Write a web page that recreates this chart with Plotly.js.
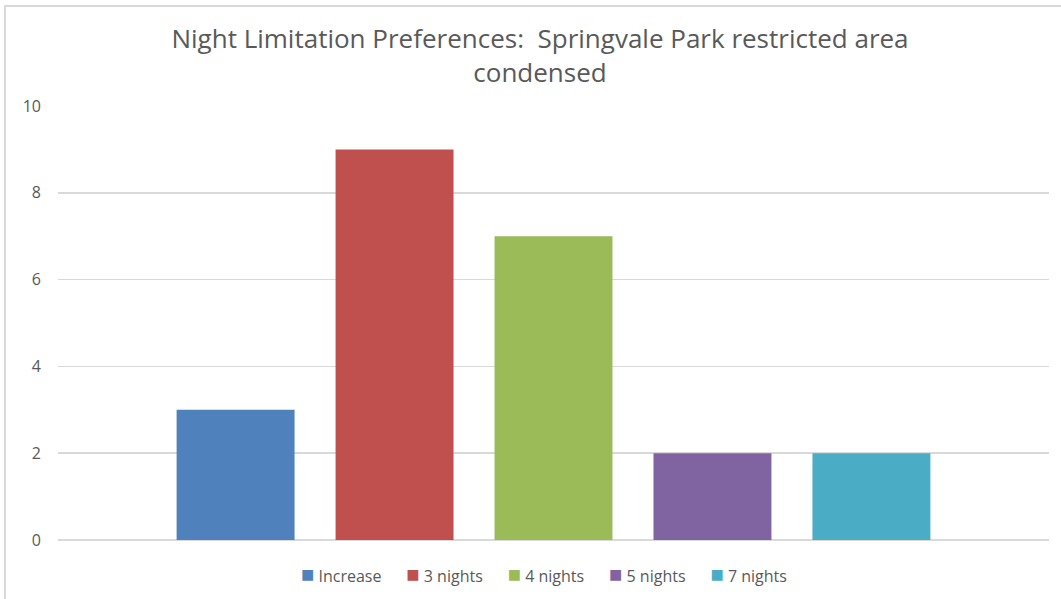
<!DOCTYPE html>
<html>
<head>
<meta charset="utf-8">
<script src="https://cdn.plot.ly/plotly-3.0.1.min.js"></script>
<style>
  html, body { margin: 0; padding: 0; background: #ffffff; }
  #wrap { position: relative; width: 1061px; height: 599px; overflow: hidden; }
  #frame { position: absolute; left: 4px; top: 5px; width: 1070px; height: 610px;
           border-left: 2px solid #d9d9d9; border-top: 2px solid #d9d9d9; pointer-events: none; z-index: 2; }
  #chart { position: absolute; left: 0; top: 0; width: 1061px; height: 599px; }
</style>
</head>
<body>
<div id="wrap">
  <div id="chart"></div>
  <div id="frame"></div>
</div>
<script>
const category = [""];
const seriesNames = ["Increase", "3 nights", "4 nights", "5 nights", "7 nights"];
const seriesValues = [3, 9, 7, 2, 2];
const seriesColors = ["#4F81BD", "#C0504D", "#9BBB59", "#8064A2", "#4BACC6"];
const yTicks = [0, 2, 4, 6, 8, 10];

const traces = seriesNames.map((name, i) => ({
  type: "bar",
  name: name,
  x: category,
  y: [seriesValues[i]],
  marker: { color: seriesColors[i], line: { width: 0 } },
  hoverinfo: "name+y"
}));

const legendText = seriesNames.map((name, i) =>
  '<span style="color:' + seriesColors[i] + ';font-size:22px">■</span> ' + name
).join('&nbsp;&nbsp;&nbsp;&nbsp;&nbsp;&nbsp;');

const layout = {
  width: 1061,
  height: 599,
  paper_bgcolor: "rgba(0,0,0,0)",
  plot_bgcolor: "#ffffff",
  margin: { l: 58, r: 12, t: 106, b: 59 },
  barmode: "group",
  bargap: 0.198,
  bargroupgap: 0.258,
  showlegend: false,
  title: {
    text: "Night Limitation Preferences:  Springvale Park restricted area<br>condensed",
    font: { family: "Open Sans, sans-serif", size: 26, color: "#595959" },
    x: 540 / 1061, xanchor: "center", xref: "container",
    y: 1 - 48 / 599, yanchor: "middle", yref: "container"
  },
  font: { family: "Open Sans, sans-serif", color: "#595959" },
  xaxis: {
    showticklabels: false,
    showgrid: false,
    zeroline: false,
    showline: false,
    ticks: "",
    fixedrange: true
  },
  yaxis: {
    range: [0, 10],
    tickvals: yTicks,
    ticktext: yTicks.map(String),
    showgrid: true,
    gridcolor: "#d9d9d9",
    gridwidth: 1.5,
    zeroline: true,
    zerolinecolor: "#d9d9d9",
    zerolinewidth: 1.5,
    showline: false,
    ticks: "",
    ticklabelstandoff: 16,
    tickfont: { family: "Open Sans, sans-serif", size: 16, color: "#595959" },
    fixedrange: true
  },
  annotations: [{
    text: legendText,
    xref: "paper", yref: "paper",
    x: (544 - 58) / 991, xanchor: "center",
    y: -33 / 434, yanchor: "middle",
    showarrow: false,
    font: { family: "Open Sans, sans-serif", size: 16, color: "#595959" }
  }]
};

Plotly.newPlot("chart", traces, layout, { displayModeBar: false, staticPlot: true });
</script>
</body>
</html>
